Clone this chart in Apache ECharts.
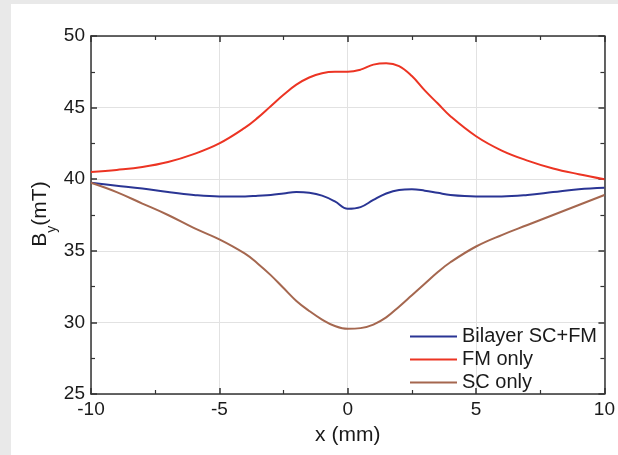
<!DOCTYPE html>
<html>
<head>
<meta charset="utf-8">
<script src="https://cdn.jsdelivr.net/npm/echarts@6/dist/echarts.min.js"></script>
<style>html,body{margin:0;padding:0;background:#e9e9e9;}#c{width:618px;height:455px;}</style>
</head>
<body>
<div id="c"></div>
<script>
var xs = [-10,-9,-8,-7,-6,-5,-4,-3.5,-3,-2.5,-2,-1.5,-1,-0.5,0,0.5,1,1.5,2,2.5,3,3.5,4,5,6,7,8,9,10];
var bilayer = [39.75,39.55,39.35,39.1,38.9,38.8,38.8,38.85,38.9,39.0,39.1,39.05,38.85,38.45,37.93,38.05,38.55,39.0,39.25,39.3,39.2,39.05,38.9,38.8,38.8,38.9,39.1,39.3,39.4];
var fmOnly = [40.5,40.65,40.85,41.2,41.75,42.5,43.6,44.3,45.1,45.9,46.6,47.1,47.4,47.5,47.5,47.65,48.0,48.1,47.9,47.2,46.2,45.3,44.4,43.0,42.0,41.3,40.75,40.35,40.0];
var scOnly = [39.75,39.1,38.3,37.5,36.6,35.8,34.8,34.1,33.3,32.4,31.5,30.8,30.2,29.75,29.55,29.6,29.85,30.35,31.1,31.9,32.7,33.5,34.2,35.3,36.1,36.8,37.5,38.2,38.9];
var seriesNames = ['Bilayer SC+FM','FM only','SC only'];
var colors = ['#2a3594','#ec3423','#a5674f'];
var xTickMin = -10, xTickMax = 10, xTickStep = 5;
var yTickMin = 25, yTickMax = 50, yTickStep = 5;

function pairs(ys){ return xs.map(function(x,i){ return [x, ys[i]]; }); }
var FONT = 'Liberation Sans';
var axisLineStyle = {color:'#333', width:1.5};
var chart = echarts.init(document.getElementById('c'), null, {renderer:'canvas'});
chart.setOption({
  backgroundColor:'#e9e9e9',
  animation:false,
  textStyle:{fontFamily:FONT},
  graphic:{elements:[
    {type:'rect', z:-100, left:11, top:4, shape:{width:607, height:451}, style:{fill:'#ffffff'}},
    {type:'text', x:40, y:214, rotation:Math.PI/2, z:10,
      style:{text:'B{s|y}(mT)', fill:'#1a1a1a', font:'21px "Liberation Sans"', align:'center', verticalAlign:'middle',
        rich:{s:{fontSize:14, fill:'#1a1a1a', fontFamily:FONT, verticalAlign:'bottom', padding:[0,0,-9,0]}}}}
  ]},
  grid:{left:91, right:13, top:36, bottom:61},
  legend:{
    orient:'vertical', left:405, top:320, itemWidth:47, itemHeight:14, itemGap:0,
    icon:'path://M0,6L47,6L47,8L0,8Z',
    textStyle:{fontSize:20, lineHeight:23, color:'#1a1a1a', fontFamily:FONT},
    data:seriesNames
  },
  xAxis:[{
    type:'value', min:xTickMin, max:xTickMax, interval:xTickStep,
    name:'x (mm)', nameLocation:'middle', nameGap:31,
    nameTextStyle:{fontSize:21, color:'#1a1a1a', fontFamily:FONT},
    axisLine:{show:true, onZero:false, lineStyle:axisLineStyle},
    axisTick:{show:true, inside:true, length:6, lineStyle:{color:'#333', width:1.5}},
    minorTick:{show:true, splitNumber:2, length:4, lineStyle:{color:'#333', width:1.2}},
    axisLabel:{fontSize:19, color:'#1a1a1a', margin:6, fontFamily:FONT},
    splitLine:{show:true, lineStyle:{color:'#e2e2e2', width:1}}
  },{
    type:'value', position:'top', min:xTickMin, max:xTickMax, interval:xTickStep,
    axisLine:{show:true, onZero:false, lineStyle:axisLineStyle},
    axisTick:{show:true, inside:true, length:6, lineStyle:{color:'#333', width:1.5}},
    minorTick:{show:true, splitNumber:2, length:4, lineStyle:{color:'#333', width:1.2}},
    axisLabel:{show:false}, splitLine:{show:false}
  }],
  yAxis:[{
    type:'value', min:yTickMin, max:yTickMax, interval:yTickStep,
    axisLine:{show:true, onZero:false, lineStyle:axisLineStyle},
    axisTick:{show:true, inside:true, length:6, lineStyle:{color:'#333', width:1.5}},
    minorTick:{show:true, splitNumber:2, length:4, lineStyle:{color:'#333', width:1.2}},
    axisLabel:{fontSize:19, color:'#1a1a1a', margin:6, fontFamily:FONT},
    splitLine:{show:true, lineStyle:{color:'#e2e2e2', width:1}}
  },{
    type:'value', position:'right', min:yTickMin, max:yTickMax, interval:yTickStep,
    axisLine:{show:true, onZero:false, lineStyle:axisLineStyle},
    axisTick:{show:true, inside:true, length:6, lineStyle:{color:'#333', width:1.5}},
    minorTick:{show:true, splitNumber:2, length:4, lineStyle:{color:'#333', width:1.2}},
    axisLabel:{show:false}, splitLine:{show:false}
  }],
  series:[bilayer, fmOnly, scOnly].map(function(ys,i){
    return {
      name:seriesNames[i], type:'line', data:pairs(ys), smooth:0.4, symbol:'none',
      lineStyle:{color:colors[i], width:2}, itemStyle:{color:colors[i]}
    };
  })
});
</script>
</body>
</html>
